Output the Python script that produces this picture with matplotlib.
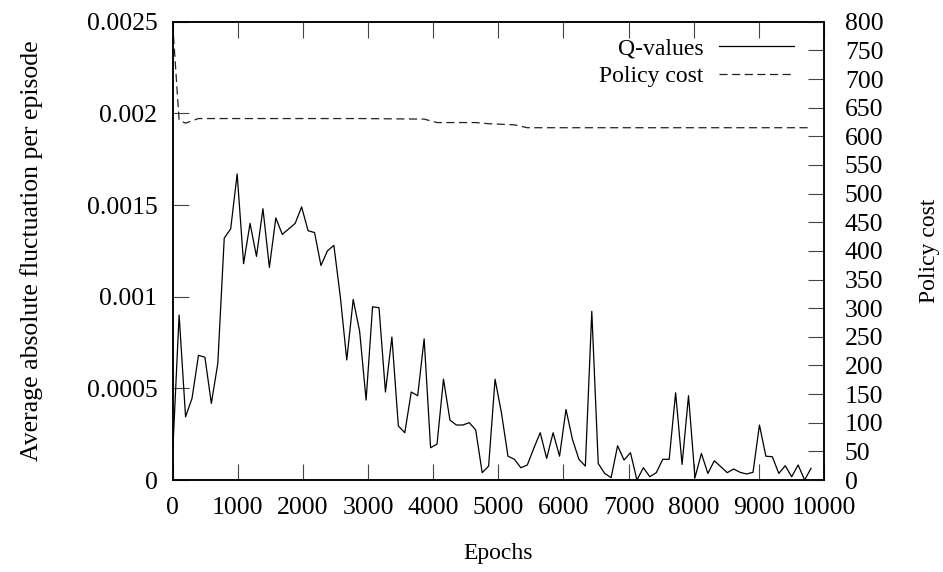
import numpy as np
import matplotlib
matplotlib.use("Agg")
import matplotlib.pyplot as plt
from matplotlib.ticker import FixedLocator, FuncFormatter

plt.rcParams['font.family'] = ['Liberation Serif', 'DejaVu Serif']
plt.rcParams['font.size'] = 17

# ---- data ----
# one Q-value sample every 99 epochs
epochs = np.arange(100) * 99
q_fluct = [
    0.000147, 0.0009, 0.000345, 0.000445, 0.00068, 0.00067, 0.000418, 0.000636,
    0.00132, 0.00137, 0.00167, 0.00118, 0.0014, 0.00122, 0.00148, 0.00116,
    0.00143, 0.00134, 0.00137, 0.0014, 0.00149, 0.00136, 0.00135, 0.00117,
    0.00125, 0.00128, 0.001, 0.000655, 0.000985, 0.00081, 0.000436, 0.000945,
    0.00094, 0.00048, 0.00078, 0.000295, 0.000258, 0.00048, 0.00046, 0.00077,
    0.000176, 0.000196, 0.00055, 0.000327, 0.0003, 0.0003, 0.000313, 0.000273,
    0.00004, 0.000076, 0.00055, 0.000364, 0.00013, 0.000113, 0.000067, 0.000082,
    0.000173, 0.000258, 0.000118, 0.000258, 0.00013, 0.000385, 0.000222, 0.000113,
    0.000076, 0.00092, 0.00009, 0.000036, 0.000013, 0.000187, 0.000109, 0.000149,
    0.0, 0.000067, 0.000018, 0.00004, 0.000113, 0.000113, 0.000476, 0.000085,
    0.00046, 0.000013, 0.000145, 0.000036, 0.000105, 0.000073, 0.00004, 0.00006,
    0.000042, 0.000033, 0.000042, 0.0003, 0.00013, 0.000127, 0.000036, 0.000078,
    0.000018, 0.000082, 0.0, 0.000064,
]

# policy cost only changes at a few epochs
policy_epochs = [0, 99, 198, 396, 2871, 3861, 4059, 4653, 4851, 5049, 5247, 5445, 9801]
policy_cost = [797, 628, 623, 631, 631, 630, 624, 624, 622, 621, 620, 615, 615]

left_ticks = [0, 0.0005, 0.001, 0.0015, 0.002, 0.0025]
right_ticks = list(range(0, 801, 50))
x_ticks = list(range(0, 10001, 1000))

# ---- figure ----
fig = plt.figure(figsize=(9.43, 5.72), dpi=100)
ax = fig.add_axes([0.1831, 0.1608, 0.6907, 0.8012])
ax2 = ax.twinx()

l1, = ax.plot(epochs, q_fluct, color='black', lw=0.9, label='Q-values')
l2, = ax2.plot(policy_epochs, policy_cost, color='#222222', lw=0.9,
               dashes=(6.5, 3.6), label='Policy cost')

ax.set_xlim(0, 10000)
ax.set_ylim(0, 0.0025)
ax2.set_ylim(0, 800)

ax.xaxis.set_major_locator(FixedLocator(x_ticks))
ax.yaxis.set_major_locator(FixedLocator(left_ticks))
ax.yaxis.set_major_formatter(FuncFormatter(lambda v, p: '%g' % v))
ax2.yaxis.set_major_locator(FixedLocator(right_ticks))

tick_style = dict(direction='in', length=11.5, width=0.8, color='#444444', labelsize=18.5)
ax.tick_params(axis='x', top=True, pad=12.5, **tick_style)
ax.tick_params(axis='y', right=False, pad=11, **tick_style)
ax2.tick_params(axis='y', pad=15, **tick_style)

for a in (ax, ax2):
    for s in a.spines.values():
        s.set_linewidth(1.1)
        s.set_color('black')

ax.set_xlabel('Epochs')
ax.set_ylabel('Average absolute fluctuation per episode', fontsize=18.5)
ax2.set_ylabel('Policy cost')
ax.xaxis.set_label_coords(0.5, -0.137)
ax.yaxis.set_label_coords(-0.1985, 0.5)
ax2.yaxis.set_label_coords(1.146, 0.5)

ax.legend(handles=[l1, l2], loc='upper right', frameon=False, markerfirst=False,
          handlelength=3.2, handletextpad=0.65, labelspacing=0.28,
          bbox_to_anchor=(0.976, 0.9965), borderaxespad=0.2)

fig.savefig('out.png', dpi=100)
